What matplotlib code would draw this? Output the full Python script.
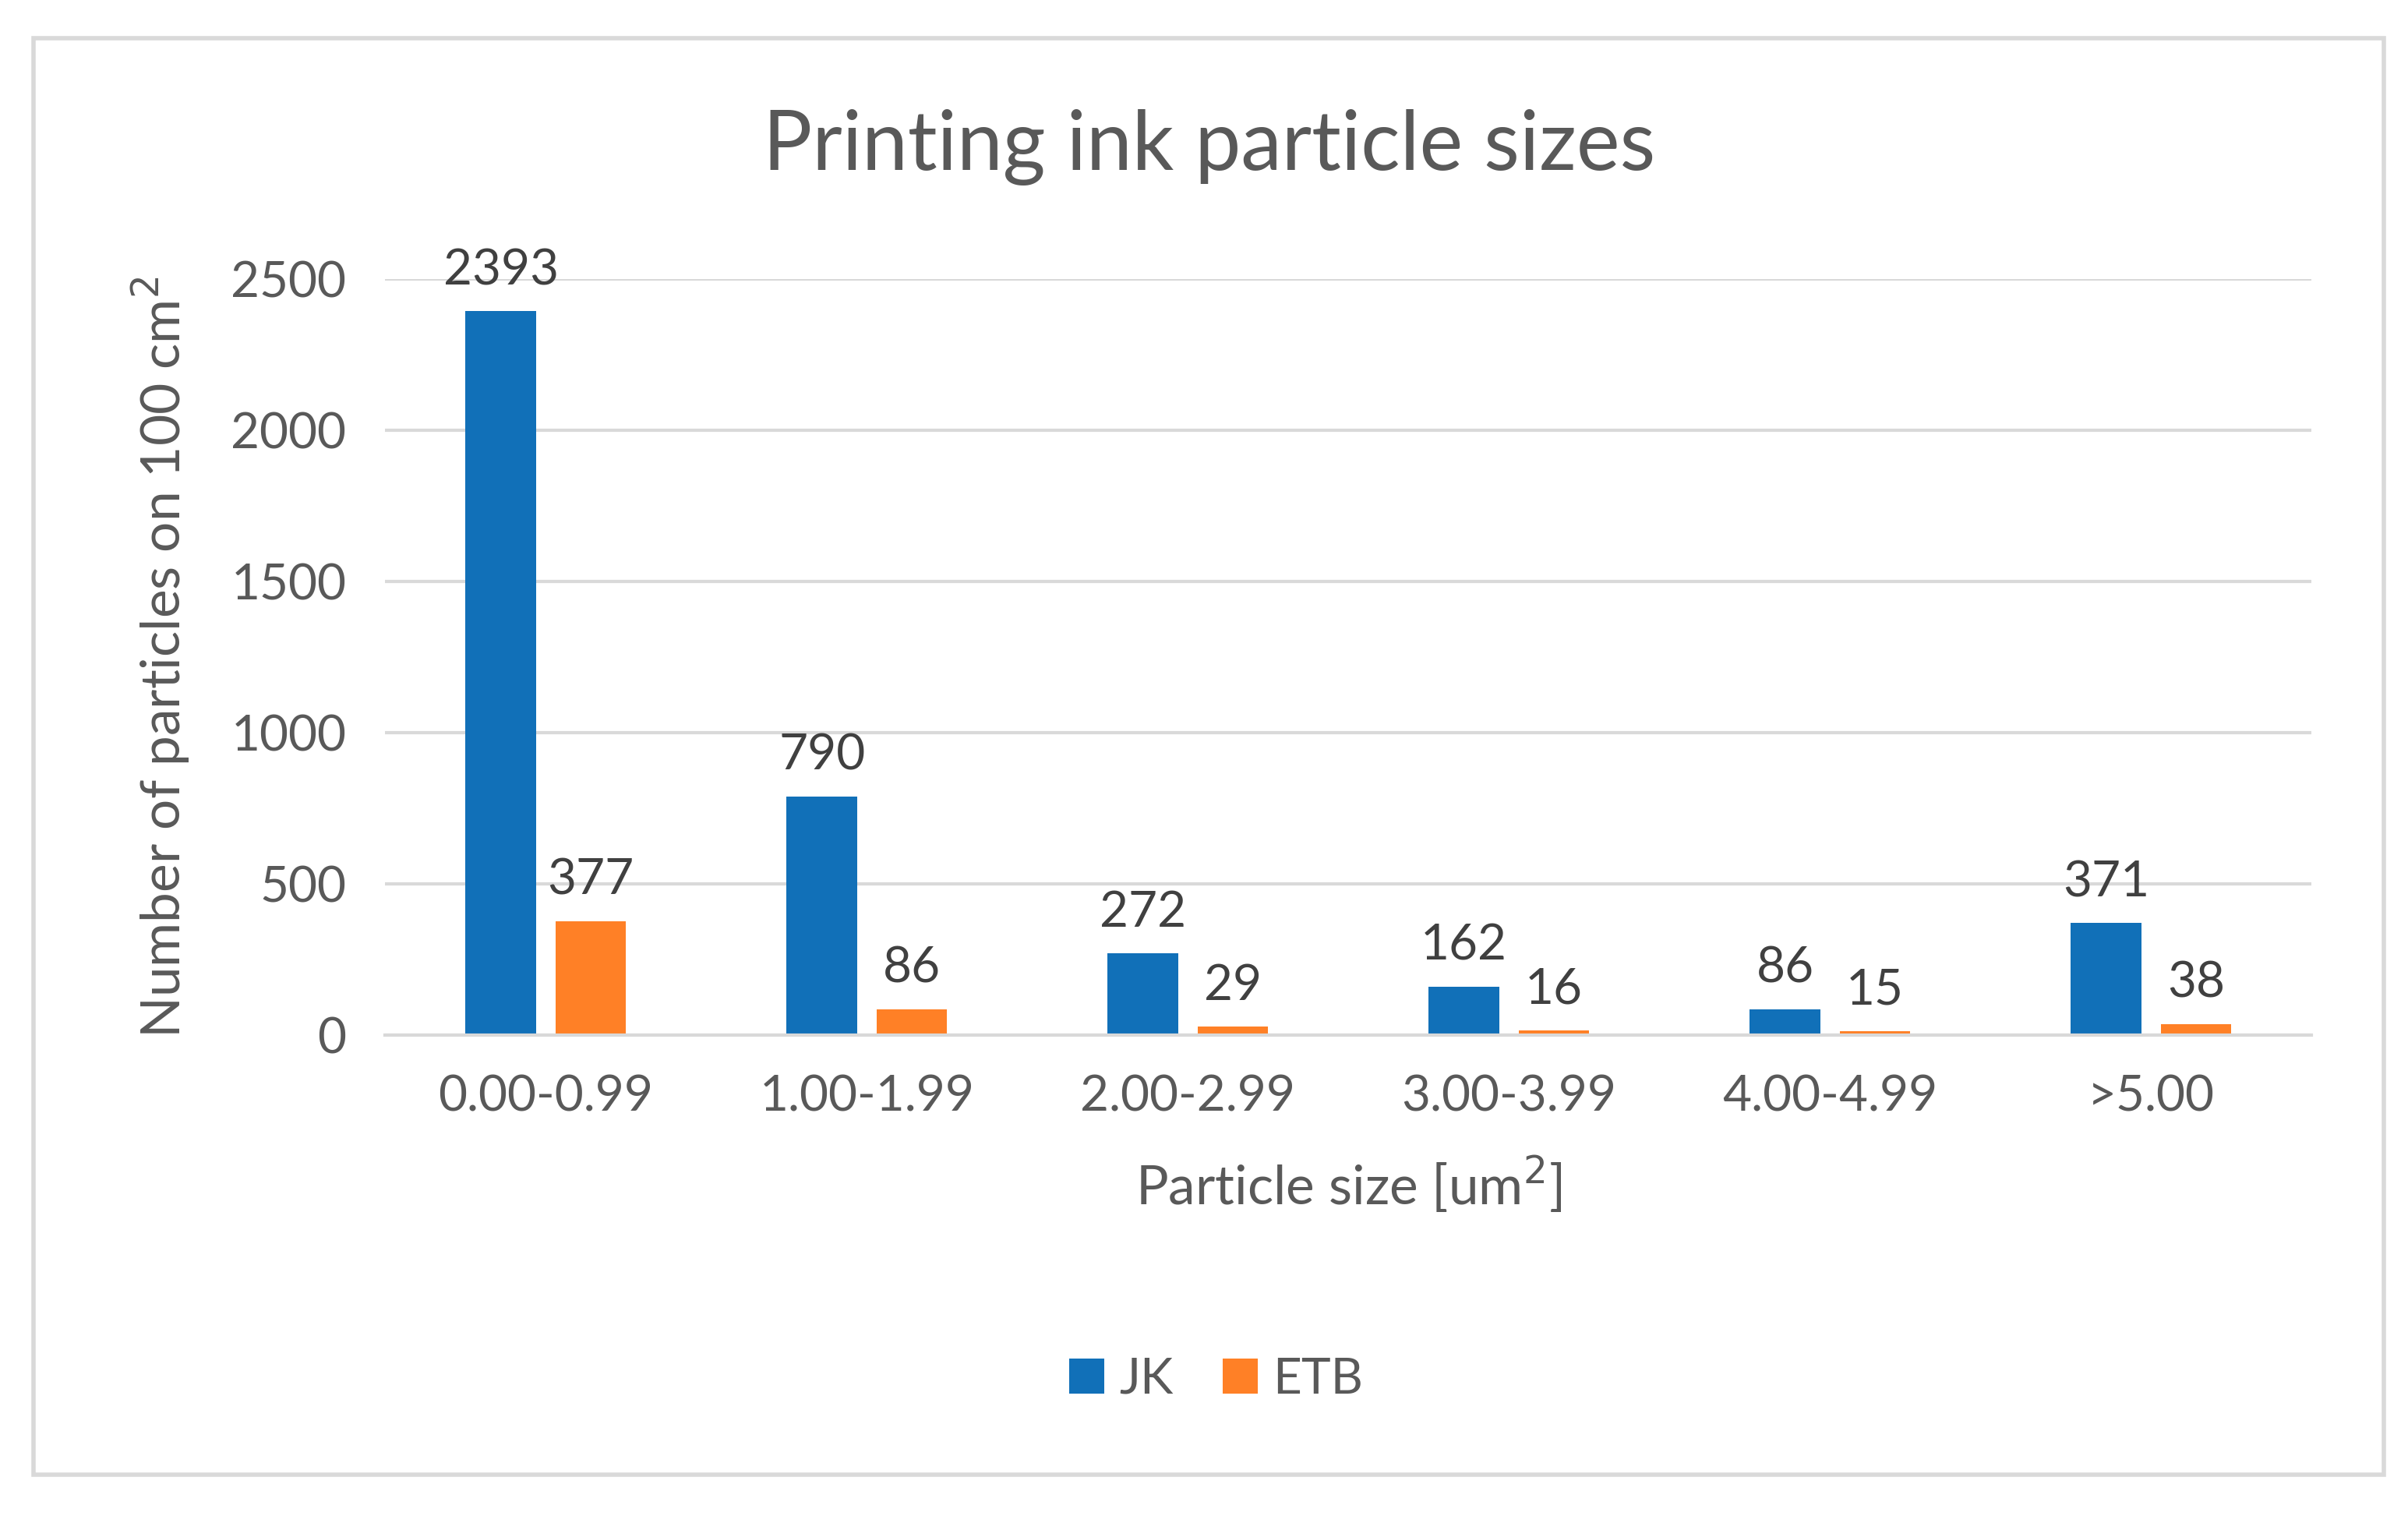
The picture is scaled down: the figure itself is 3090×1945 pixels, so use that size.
import numpy as np
import matplotlib.pyplot as plt
from matplotlib.patches import Rectangle

categories = ["0.00-0.99", "1.00-1.99", "2.00-2.99", "3.00-3.99", "4.00-4.99", ">5.00"]
jk = [2393, 790, 272, 162, 86, 371]
etb = [377, 86, 29, 16, 15, 38]

BLUE = "#1170B8"
ORANGE = "#FF8026"
GRAY = "#595959"

plt.rcParams['font.family'] = ['Lato', 'DejaVu Sans']

fig = plt.figure(figsize=(15.45, 9.725), dpi=200)
ax = fig.add_axes([0.160, 0.317, 0.800, 0.499])

x = np.arange(len(categories))
w = 0.22
b1 = ax.bar(x - 0.14, jk, w, color=BLUE, label="JK")
b2 = ax.bar(x + 0.14, etb, w, color=ORANGE, label="ETB")
for bars in (b1, b2):
    for r in bars:
        ax.text(r.get_x() + r.get_width() / 2, r.get_height() + 60, f"{int(r.get_height())}",
                ha="center", va="bottom", fontsize=23, color="#404040")

ax.set_xlim(-0.5, len(categories) - 0.5)
ax.set_ylim(0, 2500)
ax.set_yticks(range(0, 2501, 500))
ax.set_xticks(x)
ax.set_xticklabels(categories)
ax.tick_params(length=0, labelsize=23, labelcolor=GRAY, pad=18)
ax.yaxis.grid(True, color="#D9D9D9", linewidth=1.5)
ax.set_axisbelow(True)
for s in ["top", "right", "left"]:
    ax.spines[s].set_visible(False)
ax.spines["bottom"].set_color("#D9D9D9")
ax.spines["bottom"].set_linewidth(1.5)

ax.set_xlabel("Particle size [um$^2$]", fontsize=25, color=GRAY, labelpad=16)
ax.set_ylabel("Number of particles on 100 cm$^2$", fontsize=25, color=GRAY, labelpad=18)
fig.text(0.502, 0.903, "Printing ink particle sizes", ha="center", va="center",
         fontsize=38, color=GRAY)
fig.legend(handles=[b1, b2], loc="center", bbox_to_anchor=(0.505, 0.09), ncol=2,
           frameon=False, fontsize=23, labelcolor=GRAY, handlelength=0.7,
           handleheight=0.7, columnspacing=1.0, handletextpad=0.3)

fig.patches.append(Rectangle((0.014, 0.027), 0.976, 0.948, transform=fig.transFigure,
                             fill=False, edgecolor="#D9D9D9", linewidth=2))

fig.savefig("out.png", dpi=200, facecolor="white")
